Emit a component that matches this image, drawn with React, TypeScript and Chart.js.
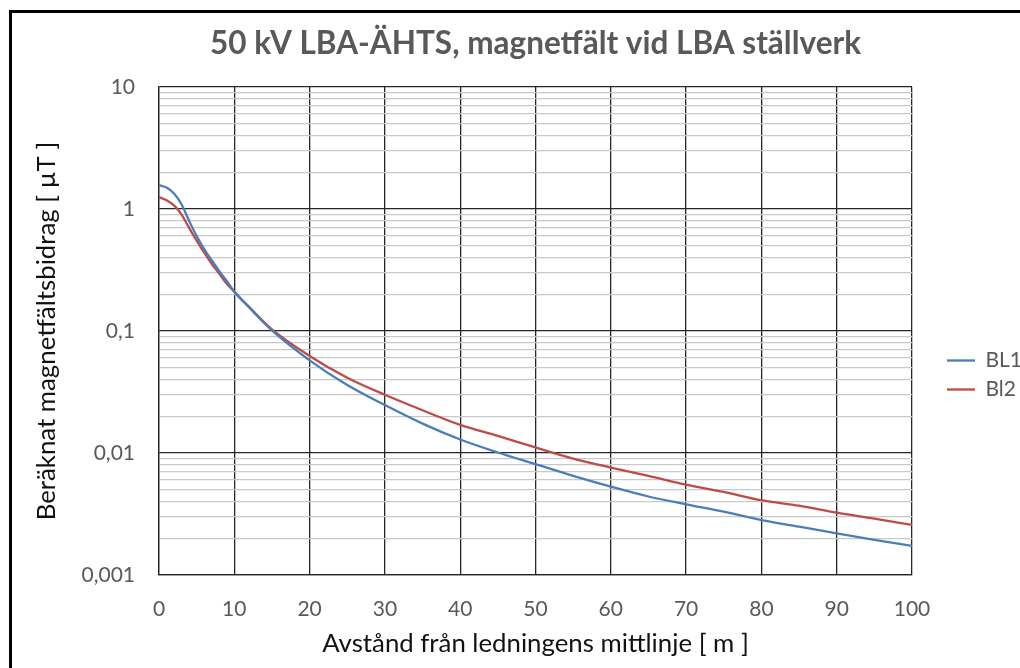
import React, { useEffect, useRef } from 'react';
import { Chart, registerables } from 'chart.js';

Chart.register(...registerables);

// ---- data ----
const distances = [0, 1, 2, 3, 4, 5, 6, 7, 8, 9, 10, 12, 15, 20, 25, 30, 35, 40, 45, 50, 55, 60, 65, 70, 75, 80, 85, 90, 95, 100];
const bl1Values = [1.57, 1.5, 1.34, 1.09, 0.8, 0.6, 0.47, 0.38, 0.31, 0.257, 0.21, 0.155, 0.101, 0.0575, 0.0361, 0.0247, 0.0174, 0.0129, 0.0101, 0.0081, 0.0065, 0.0053, 0.0044, 0.0038, 0.0033, 0.00282, 0.00249, 0.00219, 0.00194, 0.00173];
const bl2Values = [1.25, 1.18, 1.07, 0.9, 0.7, 0.55, 0.44, 0.356, 0.295, 0.244, 0.21, 0.157, 0.103, 0.0624, 0.0414, 0.03, 0.0224, 0.017, 0.0138, 0.0111, 0.009, 0.0076, 0.0065, 0.0055, 0.0048, 0.0041, 0.0037, 0.00324, 0.0029, 0.00257];
const seriesNames = ['BL1', 'Bl2'];
const seriesColors = ['#4A7EBB', '#BE4B48'];

const chartTitle = '50 kV LBA-ÄHTS, magnetfält vid LBA ställverk';
const xAxisTitle = 'Avstånd från ledningens mittlinje [ m ]';
const yAxisTitle = 'Beräknat magnetfältsbidrag [ µT ]';

const xMin = 0;
const xMax = 100;
const xStep = 10;

const yDecades = [0.001, 0.01, 0.1, 1];
const yMultipliers = [1, 2, 3, 4, 5, 6, 7, 8, 9];
const yMajorValues = [0.001, 0.01, 0.1, 1, 10];
const yMajorLabels = ['0,001', '0,01', '0,1', '1', '10'];

const FONT = 'Lato';
const GREY_TEXT = '#595959';

function majorIndex(v: number): number {
  return yMajorValues.findIndex((m) => Math.abs(m - v) / m < 1e-6);
}

export default function App() {
  const canvasRef = useRef<HTMLCanvasElement | null>(null);

  useEffect(() => {
    const canvas = canvasRef.current;
    if (!canvas) return;

    const framePlugin = {
      id: 'frame',
      beforeDraw(chart: any) {
        const ctx = chart.ctx;
        ctx.save();
        ctx.fillStyle = '#ffffff';
        ctx.fillRect(0, 0, chart.width, chart.height);
        ctx.fillStyle = '#000000';
        ctx.fillRect(9, 10, 3, chart.height - 10);
        ctx.fillRect(9, 10, chart.width - 9, 3);
        ctx.restore();
      },
    };

    const legendPlacement = {
      id: 'legendPlacement',
      afterLayout(chart: any) {
        const lg = chart.legend;
        if (!lg) return;
        lg.left = 939;
        lg.right = chart.width;
        lg.width = lg.right - lg.left;
        lg.top += 41;
        lg.bottom += 41;
      },
    };

    const chart = new Chart(canvas, {
      type: 'line',
      data: {
        datasets: [bl1Values, bl2Values].map((vals, i) => ({
          label: seriesNames[i],
          data: distances.map((d, j) => ({ x: d, y: vals[j] })),
          borderColor: seriesColors[i],
          backgroundColor: seriesColors[i],
          borderWidth: 2.3,
          pointRadius: 0,
          cubicInterpolationMode: 'monotone',
          fill: false,
        })),
      },
      options: {
        animation: false,
        responsive: false,
        events: [],
        layout: { padding: { left: 0, top: 0, right: 38, bottom: 0 } },
        plugins: {
          title: {
            display: true,
            text: chartTitle,
            fullSize: false,
            color: GREY_TEXT,
            font: { family: FONT, size: 31.5, weight: 'bold' },
            padding: { top: 24.5, bottom: 24.7 },
          },
          legend: {
            display: true,
            position: 'right',
            maxWidth: 70,
            labels: {
              usePointStyle: true,
              pointStyle: 'line',
              pointStyleWidth: 28,
              padding: 8,
              color: GREY_TEXT,
              font: { family: FONT, size: 21 },
            },
          },
          tooltip: { enabled: false },
        },
        scales: {
          x: {
            type: 'linear',
            min: xMin,
            max: xMax,
            afterFit(scale: any) {
              scale.height = 93;
            },
            ticks: {
              stepSize: xStep,
              padding: 22,
              color: GREY_TEXT,
              font: { family: FONT, size: 21 },
              maxRotation: 0,
            },
            grid: { color: '#262626', lineWidth: 1.3, drawTicks: false },
            border: { color: '#262626', width: 1.3 },
            title: {
              display: true,
              text: xAxisTitle,
              color: '#111111',
              font: { family: FONT, size: 25.8 },
              padding: { top: 0, bottom: 8.5 },
            },
          },
          y: {
            type: 'logarithmic',
            min: 0.001,
            max: 10,
            afterFit(scale: any) {
              scale.width = 159;
            },
            afterBuildTicks(scale: any) {
              const t: any[] = [];
              yDecades.forEach((d) => yMultipliers.forEach((m) => t.push({ value: Number((d * m).toPrecision(3)) })));
              t.push({ value: yMajorValues[yMajorValues.length - 1] });
              scale.ticks = t;
            },
            ticks: {
              autoSkip: false,
              padding: 24,
              color: GREY_TEXT,
              font: { family: FONT, size: 21 },
              callback: (value: any) => {
                const i = majorIndex(Number(value));
                return i >= 0 ? yMajorLabels[i] : '';
              },
            },
            grid: {
              drawTicks: false,
              color: (ctx: any) => (ctx.tick && majorIndex(ctx.tick.value) >= 0 ? '#262626' : '#c9c9c9'),
              lineWidth: 1.3,
            },
            border: { color: '#262626', width: 1.3 },
            title: {
              display: true,
              text: yAxisTitle,
              color: '#111111',
              font: { family: FONT, size: 25.8 },
              padding: { top: 31.5, bottom: 0 },
            },
          },
        },
      },
      plugins: [framePlugin, legendPlacement],
    } as any);

    return () => chart.destroy();
  }, []);

  return (
    <div style={{ position: 'absolute', left: 0, top: 0, width: 1020, height: 668, overflow: 'hidden', background: '#fff' }}>
      <canvas ref={canvasRef} width={1020} height={668} style={{ display: 'block', width: 1020, height: 668 }} />
    </div>
  );
}
